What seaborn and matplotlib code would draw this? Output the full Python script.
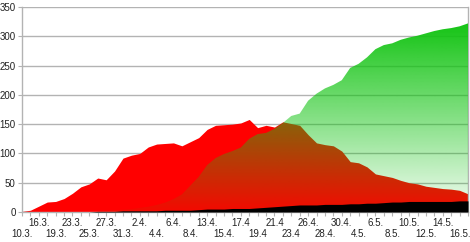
import numpy as np
import matplotlib
matplotlib.use("Agg")
import matplotlib.pyplot as plt
import seaborn as sns
from matplotlib.colors import to_rgb

# ---- data -------------------------------------------------------------
tick_labels = ["10.3.", "16.3.", "19.3.", "23.3.", "25.3.", "27.3.", "31.3.",
               "2.4.", "4.4.", "6.4.", "8.4.", "13.4.", "15.4.", "17.4", "19.4",
               "21.4", "23.4", "26.4.", "28.4.", "30.4.", "4.5.", "6.5.", "8.5.",
               "10.5.", "12.5.", "14.5.", "16.5."]

active = [1, 3, 10, 17, 18, 23, 32, 43, 48, 58, 55, 70, 92, 97, 100, 111, 116, 117,
          118, 113, 120, 127, 141, 148, 149, 150, 152, 158, 144, 148, 145, 154, 151,
          148, 132, 118, 115, 113, 104, 86, 84, 77, 65, 62, 59, 54, 50, 48, 44, 42,
          40, 39, 37, 31]

recovered = [0, 0, 0, 0, 0, 0, 0, 0, 0, 1, 2, 3, 4, 5, 7, 9, 12, 16, 22, 30, 45, 60,
             80, 92, 99, 104, 110, 125, 133, 135, 142, 152, 164, 168, 190, 202, 211,
             217, 225, 246, 253, 264, 278, 285, 288, 294, 298, 301, 305, 309, 312,
             314, 317, 322]

deaths = [0, 0, 0, 0, 0, 0, 0, 0, 0, 1, 1, 1, 2, 2, 2, 2, 2, 3, 3, 3, 3, 4, 5, 5, 5,
          6, 6, 6, 7, 8, 9, 10, 11, 12, 12, 12, 13, 13, 13, 14, 14, 15, 15, 16, 17,
          17, 18, 18, 18, 18, 18, 18, 19, 19]

# ---- style ------------------------------------------------------------
sns.set_theme(style="white")
plt.rcParams["font.family"] = ["Liberation Sans", "DejaVu Sans"]

W, H = 470, 242
fig = plt.figure(figsize=(W / 100, H / 100), dpi=100)
ax = fig.add_axes([22 / W, 30 / H, 446 / W, 205 / H])

x = np.arange(len(active))
gray = "#b3b3b3"
green = "#14c414"
txt = "#222222"

# red area
ax.fill_between(x, 0, active, color="#ff0000", linewidth=0, zorder=2)

# green area with vertical transparency gradient
poly = ax.fill_between(x, 0, recovered, facecolor="none", linewidth=0, zorder=3)
gmax = max(recovered)
n = 256
grad = np.zeros((n, 1, 4))
grad[:, 0, :3] = to_rgb(green)
grad[:, 0, 3] = np.linspace(0.05, 1.0, n)
im = ax.imshow(grad, extent=[0, len(x) - 1, 0, gmax], origin="lower",
               aspect="auto", zorder=3, interpolation="bilinear")
im.set_clip_path(poly.get_paths()[0], transform=ax.transData)

# black area
ax.fill_between(x, 0, deaths, color="#000000", linewidth=0, zorder=4)
sns.lineplot(x=x, y=deaths, ax=ax, color="#000000", linewidth=0, zorder=4)

# ---- axes -------------------------------------------------------------
ax.set_xlim(0, len(x) - 1)
ax.set_ylim(0, 350)
ax.set_yticks(np.arange(0, 351, 50))
ax.yaxis.grid(True, color=gray, linewidth=1)
ax.set_axisbelow(True)

# tick marks at every category, upper-row labels on the main axis
upper_pos = [2 * k for k in range(len(tick_labels)) if k % 2 == 1]
upper_lab = [tick_labels[k] for k in range(len(tick_labels)) if k % 2 == 1]
lower_pos = [2 * k for k in range(len(tick_labels)) if k % 2 == 0]
lower_lab = [tick_labels[k] for k in range(len(tick_labels)) if k % 2 == 0]

ax.set_xticks(x, minor=True)
ax.set_xticks(upper_pos)
ax.set_xticklabels(upper_lab, fontsize=7)
ax.tick_params(axis="x", which="both", length=3, width=0.8, color=gray, pad=1.5,
               labelcolor=txt)
ax.tick_params(axis="y", length=3, width=0.8, color=gray, pad=1.5, labelsize=7,
               labelcolor=txt, left=True)
ax.tick_params(axis="x", which="both", bottom=True)

sec = ax.secondary_xaxis("bottom")
sec.set_xticks(lower_pos)
sec.set_xticklabels(lower_lab, fontsize=7)
sec.tick_params(axis="x", length=0, pad=12, labelcolor=txt)
sec.spines["bottom"].set_visible(False)

for s in ["left", "bottom", "right"]:
    ax.spines[s].set_color(gray)
    ax.spines[s].set_linewidth(1)
ax.spines["top"].set_visible(False)
ax.set_xlabel("")
ax.set_ylabel("")

fig.savefig("out.png", dpi=100)
